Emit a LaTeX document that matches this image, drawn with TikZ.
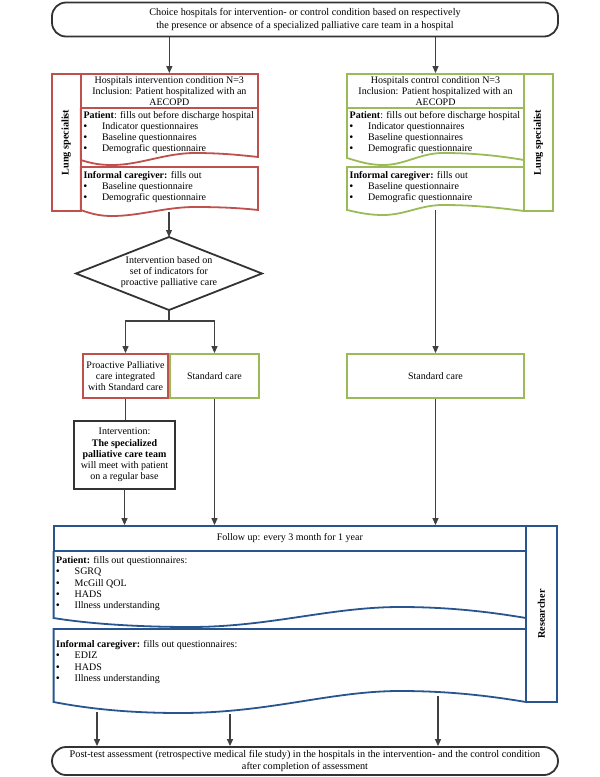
\documentclass[tikz,border=0pt]{standalone}
\usepackage{fontspec}
\setmainfont{Liberation Serif}
\usetikzlibrary{arrows.meta}
\definecolor{cred}{HTML}{C0504D}
\definecolor{cgreen}{HTML}{9BBB59}
\definecolor{cblue}{HTML}{28548F}
\definecolor{cgray}{HTML}{404040}
\definecolor{cdark}{HTML}{333333}
\newcommand{\myb}{\makebox[18.5pt][l]{\textbf{\textbullet}}}
\begin{document}
\begin{tikzpicture}[x=1pt,y=-1pt,
  txt/.style={font=\fontsize{10}{11.2}\selectfont, inner sep=0pt, align=left},
  ctxt/.style={font=\fontsize{10}{11.2}\selectfont, inner sep=0pt, align=center},
  redl/.style={draw=cred, line width=1.8pt},
  greenl/.style={draw=cgreen, line width=1.8pt},
  bluel/.style={draw=cblue, line width=1.8pt},
  darkl/.style={draw=cdark, line width=1.8pt},
  arr/.style={draw=cgray, line width=1.1pt, -{Triangle[length=7pt,width=6pt]}},
  ln/.style={draw=cgray, line width=1.1pt},
  vlab/.style={font=\fontsize{10.2}{11.2}\selectfont\bfseries, rotate=90, inner sep=0pt},
]
\useasboundingbox (0,0) rectangle (600,777);

% top box
\node[darkl, rounded corners=14pt, minimum width=506pt, minimum height=34pt,
  ctxt, font=\fontsize{10.2}{12.5}\selectfont] (top) at (305,19.5)
  {Choice hospitals for intervention- or control condition based on respectively\\
   the presence or absence of a specialized palliative care team in a hospital};

% ---------- red (intervention) ----------
\node[redl, vlab, minimum width=137pt, minimum height=29pt] (redcol) at (66.2,142.5) {Lung specialist};
\node[redl, ctxt, minimum width=177.3pt, minimum height=34pt] (redhosp) at (169.35,91)
  {Hospitals intervention condition N=3\\Inclusion: Patient hospitalized with an\\AECOPD};
\draw[redl] (80.7,108) -- (80.7,160) .. controls (92,163.5) and (100,165) .. (112,165)
  .. controls (140,165) and (165,153) .. (195,153) .. controls (220,153) and (240,155) .. (258,157) -- (258,108);
\node[txt, anchor=north west] (redpt) at (83.3,111)
  {\textbf{Patient}: fills out before discharge hospital\\
   \myb Indicator questionnaires\\ \myb Baseline questionnaires\\ \myb Demografic questionnaire};
\draw[redl] (258,167) -- (80.7,167) -- (80.7,210) .. controls (92,214) and (100,216) .. (112,216)
  .. controls (140,216) and (165,207) .. (195,207) .. controls (220,207) and (240,208) .. (258,210) -- cycle;
\node[txt, anchor=north west] (redic) at (83.3,171)
  {\textbf{Informal caregiver:} fills out\\ \myb Baseline questionnaire\\ \myb Demografic questionnaire};
\coordinate (redwb) at (169,212);

% diamond
\coordinate (dtop) at (169,237);
\coordinate (dbot) at (169,310);
\draw[darkl] (dtop) -- (262,273.5) -- (dbot) -- (76,273.5) -- cycle;
\node[ctxt] (dtext) at (169,272)
  {Intervention based on\\set of indicators for\\proactive palliative care};
\coordinate (split) at (169,321);

\node[redl, ctxt, minimum width=85pt, minimum height=44pt] (redpc) at (125.5,376)
  {Proactive Palliative\\care integrated\\with Standard care};
\node[greenl, ctxt, minimum width=89pt, minimum height=44pt] (gsc1) at (214.5,376) {Standard care};

\node[darkl, ctxt, minimum width=101pt, minimum height=68pt] (interv) at (124.5,455)
  {Intervention:\\\textbf{The specialized}\\\textbf{palliative care team}\\will meet with patient\\on a regular base};

% ---------- green (control) ----------
\node[greenl, vlab, minimum width=137pt, minimum height=29pt] (greencol) at (538.5,142.5) {Lung specialist};
\node[greenl, ctxt, minimum width=177pt, minimum height=34pt] (greenhosp) at (435.5,91)
  {Hospitals control condition N=3\\Inclusion: Patient hospitalized with an\\AECOPD};
\draw[greenl] (347,108) -- (347,158) .. controls (360,162) and (370,165) .. (383,165)
  .. controls (405,165) and (420,153) .. (443,153) .. controls (475,153) and (500,156) .. (524,160) -- (524,108);
\node[txt, anchor=north west] (greenpt) at (349.5,111)
  {\textbf{Patient}: fills out before discharge hospital\\
   \myb Indicator questionnaires\\ \myb Baseline questionnaires\\ \myb Demografic questionnaire};
\draw[greenl] (524,167) -- (347,167) -- (347,210) .. controls (360,213) and (370,215) .. (383,215)
  .. controls (405,215) and (420,205) .. (443,205) .. controls (475,205) and (500,208) .. (524,211) -- cycle;
\node[txt, anchor=north west] (greenic) at (349.5,171)
  {\textbf{Informal caregiver:} fills out\\ \myb Baseline questionnaire\\ \myb Demografic questionnaire};
\coordinate (greenwb) at (435.5,210);

\node[greenl, ctxt, minimum width=177pt, minimum height=44pt] (gsc2) at (435.5,376) {Standard care};

% ---------- blue (follow up) ----------
\node[bluel, ctxt, minimum width=472.4pt, minimum height=25pt] (fu) at (289.8,538.5)
  {Follow up: every 3 month for 1 year};
\node[bluel, vlab, minimum width=176pt, minimum height=31pt] (bluecol) at (541.5,614) {Researcher};
\draw[bluel] (53.6,551) -- (53.6,618) .. controls (90,624) and (140,627) .. (190,627)
  .. controls (270,627) and (330,607) .. (400,607) .. controls (450,607) and (490,612) .. (526,618) -- (526,551);
\node[txt, anchor=north west] (bluept) at (56,556.5)
  {\textbf{Patient:} fills out questionnaires:\\ \myb SGRQ\\ \myb McGill QOL\\ \myb HADS\\ \myb Illness understanding};
\draw[bluel] (526,629) -- (53.6,629) -- (53.6,702) .. controls (90,709) and (130,713) .. (180,713)
  .. controls (270,713) and (330,691) .. (400,691) .. controls (450,691) and (490,696) .. (526,702) -- cycle;
\node[txt, anchor=north west] (blueic) at (56,640.5)
  {\textbf{Informal caregiver:} fills out questionnaires:\\ \myb EDIZ\\ \myb HADS\\ \myb Illness understanding};
\coordinate (bw1) at (97,712);
\coordinate (bw2) at (230,714);
\coordinate (bw3) at (438,696);

% bottom box
\node[darkl, rounded corners=14pt, minimum width=506pt, minimum height=28pt,
  ctxt, font=\fontsize{10.2}{11.4}\selectfont] (bot) at (305,761)
  {Post-test assessment (retrospective medical file study) in the hospitals in the intervention- and the control condition\\
   after completion of assessment};

% ---------- connectors ----------
\draw[arr] (top.south -| redhosp.north) -- (redhosp.north);
\draw[arr] (top.south -| greenhosp.north) -- (greenhosp.north);
\draw[arr] (redwb) -- (dtop);
\draw[ln] (dbot) -- (split);
\draw[arr] (split) -| (redpc.north);
\draw[arr] (split) -| (gsc1.north);
\draw[ln] (redpc.south) -- (redpc.south |- interv.north);
\draw[arr] (interv.south) -- (interv.south |- fu.north);
\draw[arr] (gsc1.south) -- (gsc1.south |- fu.north);
\draw[arr] (greenwb) -- (gsc2.north);
\draw[arr] (gsc2.south) -- (gsc2.south |- fu.north);
\draw[arr] (bw1) -- (bw1 |- bot.north);
\draw[arr] (bw2) -- (bw2 |- bot.north);
\draw[arr] (bw3) -- (bw3 |- bot.north);
\end{tikzpicture}
\end{document}
